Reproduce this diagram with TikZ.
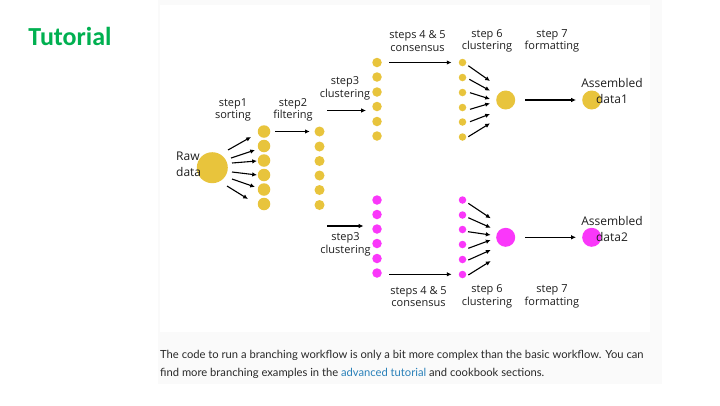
\documentclass[tikz,border=0pt]{standalone}
\usepackage{fontspec}
\setmainfont{Open Sans}
\newfontfamily\capfont{Lato}
\newfontfamily\titlefont{Carlito}
\usetikzlibrary{arrows.meta}
\definecolor{ylw}{RGB}{232,196,60}
\definecolor{mag}{RGB}{250,55,250}
\definecolor{ttlgreen}{RGB}{0,176,80}
\definecolor{linkblue}{RGB}{41,128,185}
\definecolor{captxt}{RGB}{40,40,40}
\definecolor{panelgray}{RGB}{250,250,250}
\definecolor{inktxt}{RGB}{30,30,30}
\begin{document}
\begin{tikzpicture}[x=1pt,y=-1pt,
  dotY/.style={circle,fill=ylw,inner sep=0pt,minimum size=#1},
  dotM/.style={circle,fill=mag,inner sep=0pt,minimum size=#1},
  arr/.style={-{Latex[length=4.8pt,width=4.5pt]},line width=1.1pt,draw=black},
  lbl/.style={align=center,text=inktxt,font=\fontsize{11}{12.5}\selectfont,inner sep=0pt},
  biglbl/.style={align=center,text=inktxt,font=\fontsize{12}{16}\selectfont,inner sep=0pt}
]
\useasboundingbox (0,0) rectangle (720,405);
\fill[white] (0,0) rectangle (720,405);
\fill[panelgray] (158,0) rectangle (662,384);
\fill[white] (160,5) rectangle (650,332);

% title
\node[text=ttlgreen,font=\titlefont\bfseries\fontsize{26}{30}\selectfont,inner sep=0pt] (title) at (70,36) {Tutorial};

% raw data
\node[dotY=31pt] (raw) at (212.3,167.7) {};

% column 1
\foreach \n/\y in {a/131.5,b/146,c/160.5,d/175,e/189.5,f/204}
  \node[dotY=12.5pt] (c1\n) at (264,\y) {};
% column 2
\foreach \n/\y in {a/131.5,b/146.5,c/161,d/175.5,e/190,f/205}
  \node[dotY=10pt] (c2\n) at (319.5,\y) {};
% top column 3
\foreach \n/\y in {a/62.5,b/77,c/92,d/106.5,e/121.5,f/136}
  \node[dotY=9.5pt] (t3\n) at (377,\y) {};
% top column 4
\foreach \n/\y in {a/62.5,b/77.5,c/92.5,d/107.5,e/122,f/137}
  \node[dotY=7.5pt] (t4\n) at (462.5,\y) {};
\node[dotY=19pt] (tres) at (505.7,100) {};
\node[dotY=19pt] (tasm) at (591.7,100) {};
% bottom column 3
\foreach \n/\y in {a/200,b/214.5,c/229,d/243.5,e/258.5,f/273}
  \node[dotM=9.5pt] (b3\n) at (377,\y) {};
% bottom column 4
\foreach \n/\y in {a/200,b/215,c/229.5,d/244.5,e/259.5,f/274.5}
  \node[dotM=7.5pt] (b4\n) at (462.5,\y) {};
\node[dotM=19pt] (bres) at (505.7,237.3) {};
\node[dotM=19pt] (basm) at (591.7,237.3) {};

% fan from raw data
\foreach \i/\sx/\sy/\ex/\ey in {1/228/150/251/137, 2/231/158/255/150, 3/232/163/257/161,
    4/232/172/257/175, 5/232/179/255/187, 6/227/186/248/199}{
  \coordinate (rs\i) at (\sx,\sy);
  \coordinate (re\i) at (\ex,\ey);
  \draw[arr] (rs\i) -- (re\i);
}
% step2
\draw[arr,shorten <=4.75pt,shorten >=4.5pt] (c1a) -- (c2a);
% step3 arrows
\coordinate (s3ta) at (327,110.5); \coordinate (s3tb) at (366,110.5);
\draw[arr] (s3ta) -- (s3tb);
\coordinate (s3ba) at (327,226); \coordinate (s3bb) at (363.5,226);
\draw[arr] (s3ba) -- (s3bb);
% steps 4 & 5
\draw[arr,shorten <=7.5pt,shorten >=7pt] (t3a) -- (t4a);
\coordinate (s45ba) at (389.3,274.3); \coordinate (s45bb) at (451.7,274.3);
\draw[arr] (s45ba) -- (s45bb);
% step 6 converging arrows
\foreach \i/\sx/\sy/\ex/\ey in {1/468.3/65.7/490/81, 2/469.3/79.3/490/90.7, 3/470/92.7/490/99,
    4/470/109.3/490/103.3, 5/470/121.7/490/114, 6/468.3/136.7/490/123.3}{
  \coordinate (ts\i) at (\sx,\sy);
  \coordinate (te\i) at (\ex,\ey);
  \draw[arr] (ts\i) -- (te\i);
}
\foreach \i/\sx/\sy/\ex/\ey in {1/468.3/203.3/490.7/218.3, 2/468.3/217.7/490.7/227.7, 3/468/231.7/490.7/235,
    4/468.3/248.3/490.7/240, 5/468.3/260/490.7/250, 6/468.3/275/490.7/261}{
  \coordinate (bs\i) at (\sx,\sy);
  \coordinate (be\i) at (\ex,\ey);
  \draw[arr] (bs\i) -- (be\i);
}
% step 7
\draw[arr,shorten <=10pt,shorten >=6pt] (tres) -- (tasm);
\draw[arr,shorten <=10pt,shorten >=6pt] (bres) -- (basm);

% labels
\node[biglbl,align=left,anchor=west] (rawlbl) at (176,164.5) {Raw\\data};
\node[lbl] (l1) at (233,110) {step1\\sorting};
\node[lbl] (l2) at (293,110) {step2\\filtering};
\node[lbl] (l3t) at (345,88.5) {step3\\clustering};
\node[lbl] (l45t) at (417.5,41) {steps 4 \& 5\\consensus};
\node[lbl] (l6t) at (487,41) {step 6\\clustering};
\node[lbl] (l7t) at (552,41) {step 7\\formatting};
\node[biglbl] (la1) at (612,91) {Assembled\\data1};
\node[lbl] (l3b) at (345.5,244.5) {step3\\clustering};
\node[lbl] (l45b) at (418.5,296.5) {steps 4 \& 5\\consensus};
\node[lbl] (l6b) at (487,296.5) {step 6\\clustering};
\node[lbl] (l7b) at (552,296.5) {step 7\\formatting};
\node[biglbl] (la2) at (612,229) {Assembled\\data2};

% caption
\node[anchor=west,align=left,inner sep=0pt,text=captxt,font=\capfont\fontsize{11.2}{18}\selectfont] (cap) at (160,364)
 {The code to run a branching workflow is only a bit more complex than the basic workflow. You can\\
  find more branching examples in the \textcolor{linkblue}{advanced tutorial} and cookbook sections.};
\end{tikzpicture}
\end{document}
